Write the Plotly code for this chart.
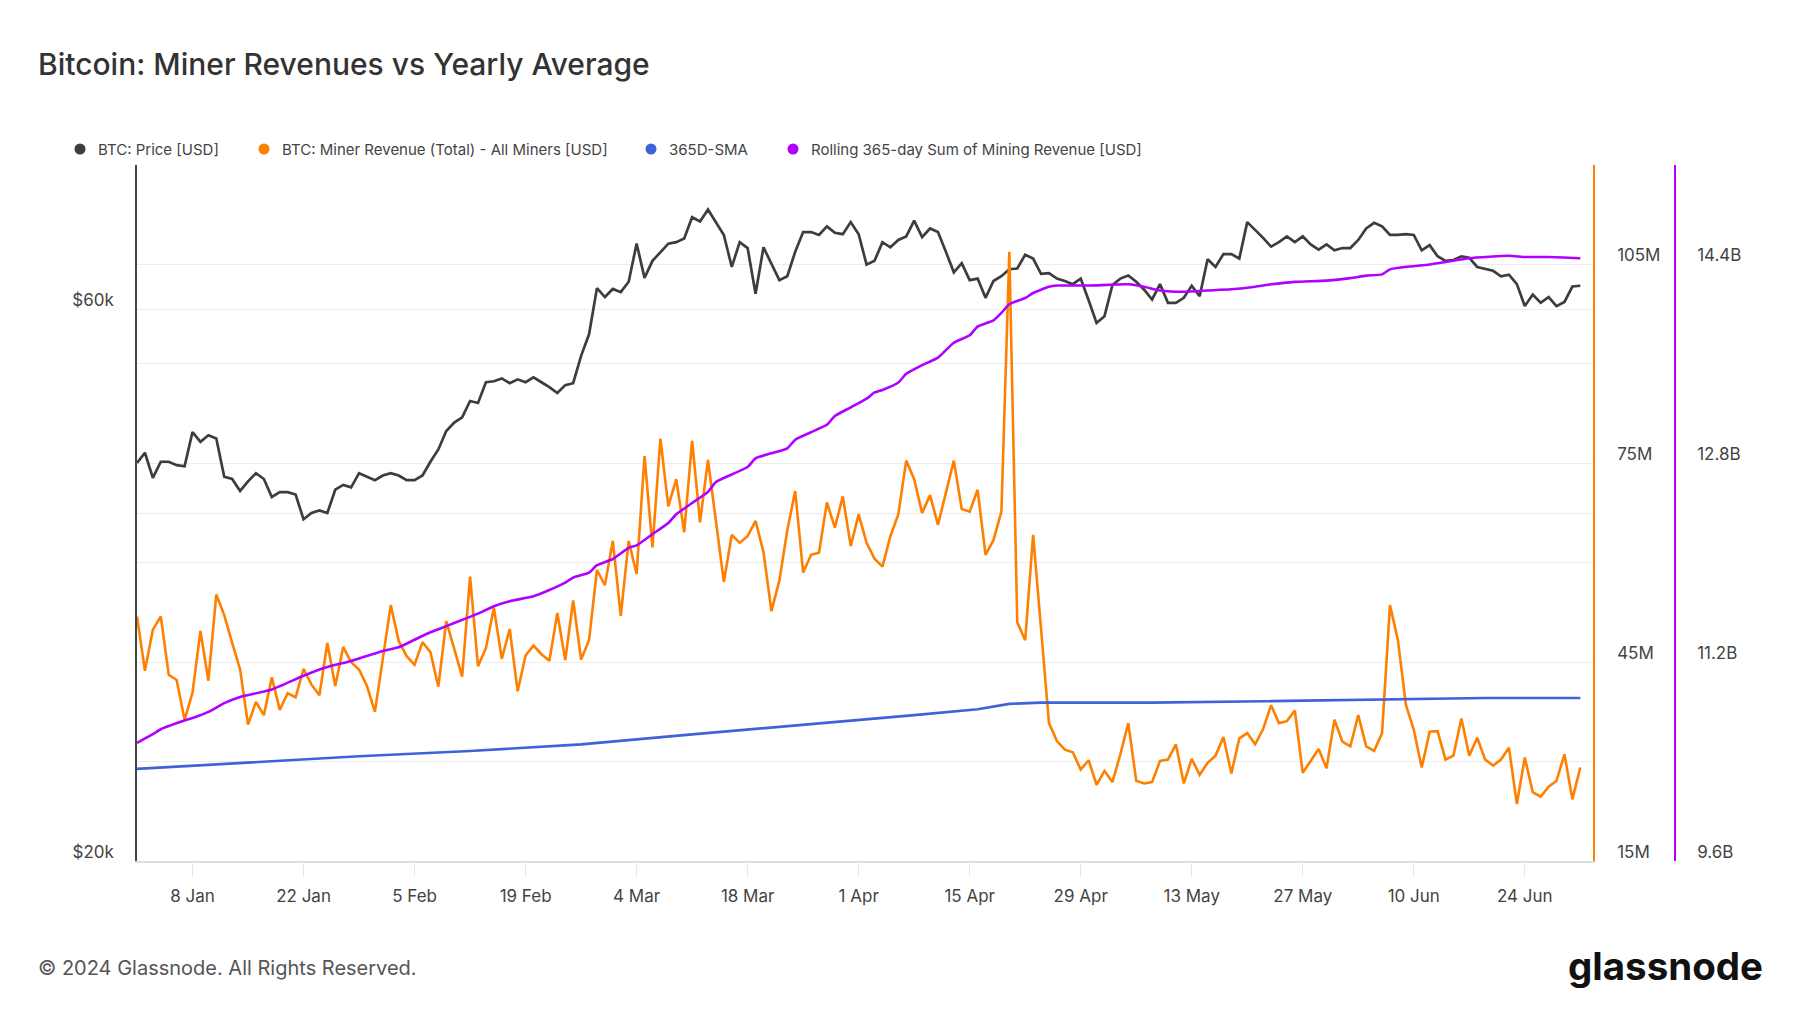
import math
import pandas as pd
import plotly.graph_objects as go

# ---------------- data ----------------
start_date = "2024-01-01"

# BTC price, daily, thousands of USD (1 Jan .. 1 Jul 2024)
btc_price_k = [
    44.2, 45.1, 42.9, 44.3, 44.3, 44.0, 43.9, 47.0, 46.1, 46.7, 46.4, 43.0, 42.8, 41.8, 42.6, 43.3,
    42.8, 41.3, 41.7, 41.7, 41.5, 39.5, 40.0, 40.2, 40.0, 41.9, 42.3, 42.1, 43.3, 43.0, 42.7, 43.1,
    43.3, 43.1, 42.7, 42.7, 43.1, 44.3, 45.4, 47.1, 47.9, 48.4, 50.0, 49.8, 51.9, 52.0, 52.3, 51.8,
    52.2, 51.9, 52.4, 51.9, 51.4, 50.8, 51.6, 51.8, 54.7, 57.1, 62.6, 61.5, 62.5, 62.1, 63.4,
    68.4, 63.9, 66.1, 67.2, 68.4, 68.6, 69.1, 72.1, 71.5, 73.2, 71.4, 69.6, 65.3, 68.6, 67.8, 61.9,
    67.9, 65.8, 63.6, 64.1, 67.3, 70.0, 70.0, 69.6, 70.8, 69.9, 69.7, 71.4, 69.7, 65.6, 66.1,
    68.6, 67.9, 68.9, 69.4, 71.6, 69.3, 70.5, 70.0, 67.3, 64.6, 65.8, 63.6, 63.8, 61.4, 63.5, 64.1,
    65.0, 65.1, 66.9, 66.4, 64.4, 64.5, 63.8, 63.5, 63.1, 63.8, 61.1, 58.4, 59.2, 63.0, 63.8,
    64.2, 63.4, 62.4, 61.2, 63.1, 60.8, 60.8, 61.4, 62.9, 61.6, 66.3, 65.3, 67.0, 67.0, 66.4, 71.4,
    70.3, 69.2, 68.0, 68.6, 69.4, 68.6, 69.4, 68.3, 67.6, 68.3, 67.5, 67.8, 67.8, 68.9, 70.5,
    71.3, 70.8, 69.6, 69.6, 69.7, 69.6, 67.5, 68.2, 66.7, 66.1, 66.2, 66.7, 66.5, 65.3, 65.0, 64.8,
    64.1, 64.3, 63.1, 60.4, 61.8, 60.8, 61.5, 60.4, 60.9, 62.8, 62.9,
]

# Miner revenue (total), daily, millions of USD
miner_revenue_m = [
    51.9, 43.7, 49.9, 51.9, 43.1, 42.3, 36.3, 40.4, 49.7, 42.2, 55.2, 52.1, 47.9, 43.9, 35.6, 39.0,
    37.0, 42.7, 37.8, 40.3, 39.7, 44.0, 41.6, 40.0, 47.9, 41.4, 47.3, 45.0, 43.9, 41.4, 37.5, 45.5,
    53.6, 48.2, 45.9, 44.6, 48.0, 46.5, 41.3, 51.2, 46.9, 42.8, 57.9, 44.4, 47.1, 53.2, 45.5, 50.0,
    40.6, 46.0, 47.5, 46.2, 45.2, 52.4, 45.3, 54.3, 45.4, 48.3, 58.9, 56.6, 63.3, 52.0, 63.3,
    58.3, 76.1, 62.3, 78.7, 68.5, 72.6, 64.6, 78.4, 66.1, 75.5, 66.3, 57.1, 64.2, 63.0, 64.0, 66.3,
    61.6, 52.7, 57.3, 64.9, 70.8, 58.5, 61.2, 61.5, 69.1, 65.3, 70.0, 62.5, 67.3, 63.0, 60.6,
    59.4, 64.0, 67.3, 75.4, 72.6, 67.5, 70.2, 65.7, 70.4, 75.4, 68.1, 67.7, 71.0, 61.2, 63.4, 67.7,
    106.9, 51.0, 48.3, 64.2, 50.0, 35.8, 33.1, 31.8, 31.4, 28.8, 30.2, 26.5, 28.6, 26.9, 31.1,
    35.8, 27.1, 26.7, 26.9, 30.1, 30.3, 32.6, 26.7, 30.4, 28.0, 29.8, 30.9, 33.7, 28.2, 33.5, 34.3,
    32.6, 34.9, 38.5, 35.8, 36.1, 37.7, 28.3, 30.1, 31.9, 29.0, 36.3, 33.0, 32.3, 37.0, 32.3,
    31.6, 34.3, 53.6, 48.3, 38.6, 34.8, 29.1, 34.5, 34.6, 30.3, 30.9, 36.5, 30.9, 33.6, 30.3, 29.4,
    30.3, 32.1, 23.6, 30.6, 25.4, 24.7, 26.2, 27.1, 31.1, 24.3, 29.1,
]

# 365D-SMA of miner revenue, millions of USD (day offset from 1 Jan, value)
sma_days = [0, 14, 28, 42, 56, 70, 84, 98, 106, 109, 110, 114, 128, 142, 156, 170, 182]
sma_values_m = [28.9, 29.9, 30.8, 31.6, 32.6, 34.1, 35.5, 37.0, 37.9, 38.5, 38.7, 38.9, 38.9,
                39.1, 39.3, 39.6, 39.6]

# Rolling 365-day sum of mining revenue, billions of USD (day offset, value)
rolling_days = [0, 2, 3, 6, 7, 9, 11, 13, 17, 21, 24, 27, 31, 33, 35, 37, 39, 41, 43, 45, 47, 50,
                52, 54, 55, 57, 58, 60, 62, 63, 65, 67, 68, 70, 72, 73, 75, 77, 78, 80, 82, 83, 85,
                87, 88, 90, 92, 93, 94, 96, 97, 99, 101, 103, 105, 106, 108, 109, 110, 112, 113,
                115, 116, 120, 125, 127, 129, 132, 135, 138, 141, 143, 146, 150, 153, 155, 157,
                158, 160, 163, 165, 168, 173, 175, 178, 182]
rolling_values_b = [10.55, 10.62, 10.66, 10.73, 10.75, 10.80, 10.87, 10.92, 10.98, 11.09, 11.16,
                    11.21, 11.29, 11.32, 11.38, 11.44, 11.49, 11.54, 11.59, 11.65, 11.69, 11.73,
                    11.78, 11.84, 11.88, 11.92, 11.98, 12.03, 12.12, 12.14, 12.23, 12.32, 12.39,
                    12.48, 12.57, 12.65, 12.71, 12.77, 12.84, 12.88, 12.92, 12.99, 13.05, 13.11,
                    13.18, 13.25, 13.32, 13.37, 13.39, 13.45, 13.52, 13.59, 13.65, 13.77, 13.83,
                    13.90, 13.95, 14.01, 14.08, 14.13, 14.17, 14.22, 14.23, 14.23, 14.24, 14.22,
                    14.19, 14.18, 14.19, 14.20, 14.22, 14.24, 14.26, 14.27, 14.29, 14.31, 14.32,
                    14.36, 14.38, 14.40, 14.42, 14.45, 14.47, 14.46, 14.46, 14.45]

x_tick_dates = ["2024-01-08", "2024-01-22", "2024-02-05", "2024-02-19", "2024-03-04",
                "2024-03-18", "2024-04-01", "2024-04-15", "2024-04-29", "2024-05-13",
                "2024-05-27", "2024-06-10", "2024-06-24"]
price_tick_vals = [20000, 40000, 60000]
price_tick_text = ["$20k", "", "$60k"]
rev_tick_vals = [15, 30, 45, 60, 75, 90, 105, 120]
rev_tick_text = ["15M", "", "45M", "", "75M", "", "105M", ""]
sum_tick_vals = [9.6, 10.4, 11.2, 12.0, 12.8, 13.6, 14.4, 15.2]
sum_tick_text = ["9.6B", "", "11.2B", "", "12.8B", "", "14.4B", ""]

legend_names = ["BTC: Price [USD]", "BTC: Miner Revenue (Total) - All Miners [USD]",
                "365D-SMA", "Rolling 365-day Sum of Mining Revenue [USD]"]

# ---------------- build ----------------
t0 = pd.Timestamp(start_date)
dates = pd.date_range(t0, periods=len(btc_price_k), freq="D")
price_usd = [v * 1000 for v in btc_price_k]
sma_dates = [t0 + pd.Timedelta(days=d) for d in sma_days]
rolling_dates = [t0 + pd.Timedelta(days=d) for d in rolling_days]

C_PRICE = "#3d3d3d"
C_REV = "#ff8000"
C_SMA = "#3f62d8"
C_SUM = "#b000ff"
FONT = "Inter"

fig = go.Figure()
fig.add_trace(go.Scatter(x=dates, y=price_usd, mode="lines", yaxis="y", name=legend_names[0],
                         line=dict(color=C_PRICE, width=2.7), showlegend=False))
fig.add_trace(go.Scatter(x=dates, y=miner_revenue_m, mode="lines", yaxis="y2", name=legend_names[1],
                         line=dict(color=C_REV, width=2.6), showlegend=False))
fig.add_trace(go.Scatter(x=sma_dates, y=sma_values_m, mode="lines", yaxis="y2", name=legend_names[2],
                         line=dict(color=C_SMA, width=2.6), showlegend=False))
fig.add_trace(go.Scatter(x=rolling_dates, y=rolling_values_b, mode="lines", yaxis="y3",
                         name=legend_names[3],
                         line=dict(color=C_SUM, width=2.6, shape="spline", smoothing=0.5),
                         showlegend=False))

W, H = 1800, 1013
L, R, T, B = 137, 100, 165, 152
paper_w = W - L - R
paper_h = H - T - B
plot_right = 1593
sum_axis_x = 1675
x_dom_end = (plot_right - L) / paper_w


def px_x(px):
    return (px - L) / paper_w


def px_y(py):
    return (H - B - py) / paper_h


tick_font = dict(family=FONT, size=17, color="#444444")

fig.update_layout(
    width=W, height=H,
    margin=dict(l=L, r=R, t=T, b=B),
    paper_bgcolor="white", plot_bgcolor="white",
    font=dict(family=FONT, color="#333333"),
    title=dict(text="Bitcoin: Miner Revenues vs Yearly Average", x=38 / W, xanchor="left",
               xref="container", yref="container", y=1 - 64 / H, yanchor="middle",
               font=dict(family=FONT, size=30, color="#333333", weight=500)),
    showlegend=False,
    xaxis=dict(type="date", domain=[0, x_dom_end],
               range=[t0, t0 + pd.Timedelta(hours=183.6 * 24)],
               tickvals=x_tick_dates, tickformat="%-d %b",
               showgrid=False, zeroline=False, showline=True, linecolor="#dddddd", linewidth=1.5,
               ticks="outside", ticklen=14, tickcolor="#e8e8e8", tickwidth=1,
               tickfont=tick_font, ticklabelstandoff=5),
    yaxis=dict(type="log", range=[math.log10(20000), math.log10(80000)],
               tickvals=price_tick_vals, ticktext=price_tick_text,
               showgrid=True, gridcolor="#ececec", gridwidth=1, zeroline=False,
               showline=True, linecolor="#444444", linewidth=1.5,
               tickfont=tick_font, ticklabelshift=-9, ticklabelstandoff=18),
    yaxis2=dict(overlaying="y", side="right", anchor="x", range=[15, 120],
                tickvals=rev_tick_vals, ticktext=rev_tick_text,
                showgrid=True, gridcolor="#ececec", gridwidth=1, zeroline=False,
                showline=True, linecolor=C_REV, linewidth=1.5,
                tickfont=tick_font, ticklabelshift=-9, ticklabelstandoff=19),
    yaxis3=dict(overlaying="y", side="right", anchor="free", position=px_x(sum_axis_x),
                range=[9.6, 15.2], tickvals=sum_tick_vals, ticktext=sum_tick_text,
                showgrid=False, zeroline=False,
                showline=True, linecolor=C_SUM, linewidth=1.5,
                tickfont=tick_font, ticklabelshift=-9, ticklabelstandoff=18),
)

# legend row: dots + labels
legend_dot_px = [80, 264, 651, 793]
legend_colors = [C_PRICE, C_REV, C_SMA, C_SUM]
legend_y_px = 149
for name, col, dx in zip(legend_names, legend_colors, legend_dot_px):
    fig.add_shape(type="circle", xref="paper", yref="paper", xsizemode="pixel", ysizemode="pixel",
                  xanchor=px_x(dx), yanchor=px_y(legend_y_px), x0=-5.5, x1=5.5, y0=-5.5, y1=5.5,
                  fillcolor=col, line=dict(width=0))
    fig.add_annotation(text=name, xref="paper", yref="paper", x=px_x(dx + 16), y=px_y(legend_y_px),
                       xanchor="left", yanchor="middle", showarrow=False,
                       font=dict(family=FONT, size=15, color="#444444"))

fig.add_annotation(text="© 2024 Glassnode. All Rights Reserved.", xref="paper", yref="paper",
                   x=px_x(36), y=px_y(968), xanchor="left",
                   yanchor="middle", showarrow=False,
                   font=dict(family=FONT, size=20, color="#555555"))
fig.add_annotation(text="<b>glassnode</b>", xref="paper", yref="paper",
                   x=px_x(1765), y=px_y(966), xanchor="right",
                   yanchor="middle", showarrow=False,
                   font=dict(family=FONT, size=38.5, color="#111111"))

fig.write_html("out.html", config={"displayModeBar": False},
               post_script="document.body.style.margin='0px';")
